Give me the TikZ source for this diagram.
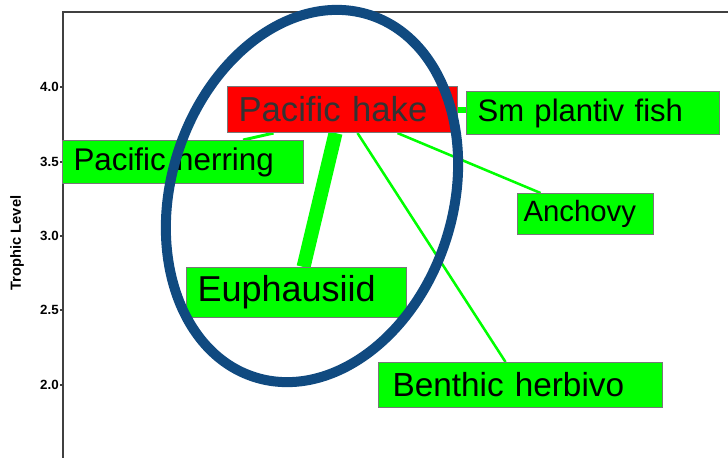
\documentclass[tikz,border=0pt]{standalone}
\usepackage{fontspec}
\setmainfont{Liberation Sans}
\usepackage{tikz}
\usetikzlibrary{calc,backgrounds}
\definecolor{grn}{RGB}{0,255,0}
\definecolor{boxgray}{RGB}{120,120,120}
\definecolor{ringblue}{RGB}{16,74,128}
\definecolor{axisgray}{RGB}{64,64,64}
\tikzset{
block/.style = {draw=boxgray, line width=0.8pt, fill=grn, rectangle, anchor=north west, inner xsep=8.25pt, inner ysep=0pt, align=left},
flow/.style = {draw=grn, line width=1.9pt},
ticklabel/.style = {anchor=east, inner sep=0pt, font=\bfseries\fontsize{10}{12}\selectfont},
ring/.style = {draw=ringblue, line width=7.5pt}
}
\begin{document}
\begin{tikzpicture}[x=0.75pt, y=-0.75pt]
                \useasboundingbox (0,0) rectangle (728,458);

                % groups
                \node [block, fill=red, text=black!80, text width=156pt, minimum height=34.5pt, font=\fontsize{26}{30}\selectfont] (hake) at (227,86) {Pacific hake};
                \node [block, text width=173.25pt, minimum height=32.25pt, font=\fontsize{23.3}{28}\selectfont] (smfish) at (466,91) {Sm plantiv fish};
                \node [block, text width=164.25pt, minimum height=32.25pt, font=\fontsize{23.5}{28}\selectfont] (herring) at (62,140) {Pacific herring};
                \node [block, inner xsep=4.5pt, text width=93pt, minimum height=30.75pt, font=\fontsize{22}{26}\selectfont] (anchovy) at (517,193) {Anchovy};
                \node [block, text width=148.5pt, minimum height=37.5pt, font=\fontsize{27}{32}\selectfont] (euph) at (186,267) {Euphausiid};
                \node [block, inner xsep=10.5pt, text width=192pt, minimum height=33.75pt, font=\fontsize{25}{30}\selectfont] (benthic) at (378,362) {Benthic herbivo};

                \begin{scope}[on background layer]
                % axis
                \coordinate (top) at (63,12);
                \coordinate (corner) at (728,12);
                \coordinate (bottom) at (63,458);
                \draw [axisgray, line width=1.1pt] (corner) -- (top) -- (bottom);
                \foreach \lab/\y in {4.0/87, 3.5/162, 3.0/236, 2.5/310, 2.0/385} {
                    \draw [axisgray, line width=1pt] (60,\y) -- (63,\y);
                    \node [ticklabel] (t\y) at (59,\y) {\lab};
                }
                \node [rotate=90, font=\bfseries\fontsize{11}{13}\selectfont] (ylab) at (17,243) {Trophic Level};

                % links
                \draw [flow, line width=10.5pt] ($(hake.south)+(-7,0)$) -- ($(euph.north)+(7,0)$);
                \draw [flow, line width=4.5pt] (hake.east) -- (hake.east -| smfish.west);
                \draw [flow, line width=2.2pt] ($(hake.south)+(-69,0)$) -- ($(herring.north)+(60,0)$);
                \draw [flow] ($(hake.south)+(55,0)$) -- ($(anchovy.north)+(-45,0)$);
                \draw [flow] ($(hake.south)+(15,0)$) -- ($(benthic.north)+(-15,0)$);
                \end{scope}

                % circled group
                \coordinate (mid) at (312,196);
                \draw [ring, rotate around={-17.5:(mid)}] (mid) ellipse [x radius=141, y radius=190];
\end{tikzpicture}
\end{document}
